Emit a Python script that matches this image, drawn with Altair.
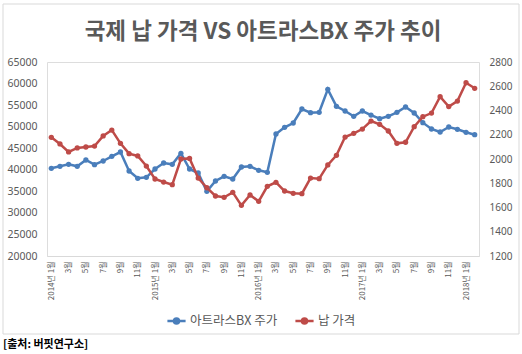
import altair as alt
import pandas as pd

# ---- data ----
months = [f"{y}-{m:02d}" for y in range(2014, 2019) for m in range(1, 13)][:50]  # 2014-01 .. 2018-02

stock_name = "아트라스BX 주가"
lead_name = "납 가격"

stock_price = [40340, 40800, 41270, 40800, 42270, 41180, 42040, 43120, 44120, 39720,
               38020, 38250, 40180, 41570, 41270, 43820, 40180, 39250, 35000, 37400,
               38480, 37860, 40640, 40800, 39880, 39410, 48300, 49850, 50850, 54100,
               53250, 53330, 58660, 54720, 53630, 52400, 53630, 52700, 51850, 52400,
               53330, 54560, 53170, 50930, 49460, 48760, 49920, 49390, 48700, 48140]

lead_price = [2179, 2124, 2058, 2091, 2099, 2107, 2190, 2239, 2129, 2044,
              2025, 1942, 1835, 1810, 1788, 2000, 2005, 1843, 1763, 1695,
              1684, 1725, 1618, 1703, 1651, 1775, 1808, 1736, 1717, 1714,
              1843, 1838, 1951, 2030, 2181, 2212, 2247, 2313, 2286, 2231,
              2129, 2138, 2267, 2349, 2379, 2514, 2432, 2478, 2629, 2583]

title_text = "국제 납 가격 VS 아트라스BX 주가 추이"
source_text = ["[출처: 버핏연구소]"]

left_ticks = list(range(20000, 65001, 5000))
right_ticks = list(range(1200, 2801, 200))

BLUE = "#4A7EBB"
RED = "#BE4B48"
GRAY = "#595959"
FONT = "Noto Sans CJK KR"

stock_df = pd.DataFrame({"month": months, "value": stock_price, "series": stock_name})
lead_df = pd.DataFrame({"month": months, "value": lead_price, "series": lead_name})

label_expr = ("(toNumber(slice(datum.value,5)) % 2 == 1) ? "
              "((slice(datum.value,5) == '01') ? slice(datum.value,0,4) + '년 1월' : "
              "toNumber(slice(datum.value,5)) + '월') : ''")

x_enc = alt.X("month:O", sort=months,
              scale=alt.Scale(type="point", padding=0.5),
              axis=alt.Axis(title=None, labelAngle=270, labelExpr=label_expr,
                            labelFontSize=8, labelColor=GRAY, labelFont=FONT,
                            ticks=False, domainColor="#D9D9D9", domainWidth=1,
                            labelPadding=5, grid=False))

color_enc = alt.Color("series:N",
                      scale=alt.Scale(domain=[stock_name, lead_name], range=[BLUE, RED]),
                      legend=alt.Legend(orient="none", legendX=119, legendY=248,
                                        direction="horizontal", title=None,
                                        labelFont=FONT, labelFontSize=12.5,
                                        labelColor=GRAY, columnPadding=12,
                                        labelOffset=3,
                                        symbolType="M-1,0L1,0M0.28,0A0.28,0.28,0,1,1,-0.28,0A0.28,0.28,0,1,1,0.28,0Z",
                                        symbolSize=330, symbolStrokeWidth=2.5))

stock_layer = alt.Chart(stock_df).mark_line(
    strokeWidth=2.5, point=alt.OverlayMarkDef(filled=True, size=28)
).encode(
    x=x_enc,
    y=alt.Y("value:Q", scale=alt.Scale(domain=[20000, 65000], nice=False),
            axis=alt.Axis(title=None, values=left_ticks, format="d", grid=False,
                          domain=False, ticks=False, labelFont="Noto Sans",
                          labelFontSize=10.5, labelColor=GRAY, labelPadding=10,
                          orient="left")),
    color=color_enc,
)

lead_layer = alt.Chart(lead_df).mark_line(
    strokeWidth=2.5, point=alt.OverlayMarkDef(filled=True, size=28)
).encode(
    x=x_enc,
    y=alt.Y("value:Q", scale=alt.Scale(domain=[1200, 2800], nice=False),
            axis=alt.Axis(title=None, values=right_ticks, format="d", grid=False,
                          domain=False, ticks=False, labelFont="Noto Sans",
                          labelFontSize=10, labelColor=GRAY, labelPadding=10,
                          orient="right")),
    color=color_enc,
)

frame = alt.Chart(pd.DataFrame({"k": [0]})).mark_rect(
    fill=None, stroke="#D9D9D9", strokeWidth=1
).encode(x=alt.value(-44), x2=alt.value(472), y=alt.value(-58), y2=alt.value(272))

source = alt.Chart(pd.DataFrame({"t": source_text})).mark_text(
    align="left", baseline="middle", font=FONT, fontSize=11, fontWeight="bold", color="#000000"
).encode(x=alt.value(-44), y=alt.value(283), text="t:N")

chart = alt.layer(frame, stock_layer, lead_layer, source).resolve_scale(
    y="independent"
).properties(
    width=432, height=194,
    padding={"left": 47, "top": 62, "right": 43, "bottom": 98},
    autosize=alt.AutoSizeParams(type="none"),
    title=alt.TitleParams(title_text, anchor="middle", frame="group", font=FONT,
                          fontSize=22.5, fontWeight="bold", color=GRAY, offset=0, dy=40),
).configure_view(stroke=None).configure(background="white")

chart.save("out.html", embed_options={"renderer": "svg", "actions": False})
